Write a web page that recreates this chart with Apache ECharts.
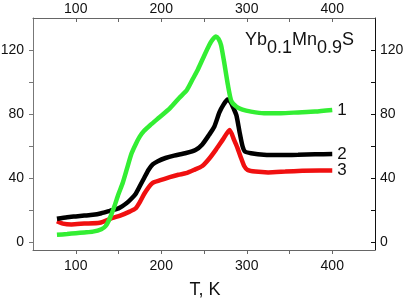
<!DOCTYPE html>
<html><head><meta charset="utf-8">
<script src="https://cdn.jsdelivr.net/npm/echarts@6/dist/echarts.min.js"></script>
<style>html,body{margin:0;padding:0;background:#fff}#c{width:405px;height:299px}</style>
</head><body><div id="c"></div>
<script>
// Curve 1 (green)
const t1 = [78,90,100,110,120,130,135,140,145,150,155,160,165,170,175,180,187,198,210,221,230,237,243,249,256,260,264,267,270,274,278,282,288,295,305,320,340,360,380,400];
const v1 = [4.5,5,5.5,6,6.5,8,10,15,22,30,37,46,55,61,66,69.5,73,78,83.5,90,95,102,108,115,123,126.5,128.5,127,123,111,98,88,84.5,82.7,81.5,80.5,80.5,81,81.5,82.5];
// Curve 2 (black)
const t2 = [78,90,100,110,120,130,140,150,160,165,170,175,180,185,190,196,205,215,229,240,248,256,262,268,273,277.5,281,285,288,291.5,295,298,305,320,340,360,380,400];
const v2 = [14.5,15.5,16,16.5,17,18,19.5,21,24.5,27,30,35,40,45,48.5,50.5,52.5,54,55.6,57.5,61,67,72,81,86,89,87.5,83,79,69,60,56.5,55.5,54.5,54.3,54.5,54.8,55];
// Curve 3 (red)
const t3 = [78,85,95,110,128,143,152,163,170,175,180,185,190,198,210,220,229,238,248,256,264,272,280,285,289,293,297,301,310,325,345,365,385,400];
const v3 = [13,11.5,11,11.5,12,15,16.5,19,21,25,30,34,37,38.5,40.5,42,43,45,47.5,52,57.7,64,70,64,59,53,47.5,45,44,43.5,44,44.5,44.7,44.7];

const seriesNames = ['1','2','3'];
const xLabelVals = [100,200,300,400];
const xTickVals = [100,150,200,250,300,350,400];
const yLabelVals = [0,40,80,120];
const yTickVals = [0,20,40,60,80,100,120];
const xName = 'T, K';

const zip = (t, v) => t.map((x, i) => [x, v[i]]);
const FONT = 'Liberation Sans, Arial, sans-serif';

function xAx(pos, inside, color) {
  return {
    type: 'value', position: pos, min: 50, max: 450,
    axisLine: { show: true, onZero: false, lineStyle: { color: color, width: 1 } },
    axisTick: { show: true, inside: inside, length: 4, customValues: xTickVals, lineStyle: { color: color } },
    axisLabel: { show: true, customValues: xLabelVals, margin: pos === 'top' ? 2 : 9, fontSize: 14, color: '#111', fontFamily: FONT },
    splitLine: { show: false }
  };
}
function yAx(pos, inside, color, margin) {
  return {
    type: 'value', position: pos, min: -5, max: 140,
    axisLine: { show: true, onZero: false, lineStyle: { color: color, width: 1 } },
    axisTick: { show: true, inside: inside, length: 4, customValues: yTickVals, lineStyle: { color: color } },
    axisLabel: { show: true, customValues: yLabelVals, margin: margin, fontSize: 14, color: '#111', fontFamily: FONT },
    splitLine: { show: false }
  };
}

function mk(name, t, v, color) {
  return {
    name: name, type: 'line', data: zip(t, v), showSymbol: false, symbol: 'none',
    smooth: 0.2,
    lineStyle: { color: color, width: 4.5 }, itemStyle: { color: color },
    animation: false,
    endLabel: { show: true, formatter: '{a}', distance: 5, fontSize: 17, color: '#111', fontFamily: FONT }
  };
}

const chart = echarts.init(document.getElementById('c'), null, { renderer: 'canvas' });
chart.setOption({
  animation: false,
  backgroundColor: '#fff',
  grid: { left: 33, right: 30, top: 18, bottom: 49, containLabel: false, outerBoundsMode: 'none' },
  title: {
    text: '{a|Yb}{b|0.1}{a|Mn}{b|0.9}{a|S}',
    left: 240, top: 26,
    textStyle: {
      fontWeight: 'normal',
      rich: {
        a: { fontSize: 18, fontWeight: 'normal', color: '#111', fontFamily: FONT, lineHeight: 20, verticalAlign: 'top' },
        b: { fontSize: 18, fontWeight: 'normal', color: '#111', fontFamily: FONT, lineHeight: 20, verticalAlign: 'top', padding: [8, 0, 0, 0] }
      }
    }
  },
  graphic: [{
    type: 'text', x: 205, y: 290,
    style: { text: xName, fontSize: 18, fontFamily: FONT, fill: '#111', align: 'center', verticalAlign: 'middle' }
  }],
  xAxis: [ xAx('bottom', false, '#666'), xAx('top', true, '#666') ],
  yAxis: [ yAx('left', false, '#777', 9), yAx('right', true, '#111', 5) ],
  series: [
    mk(seriesNames[2], t3, v3, '#f01010'),
    mk(seriesNames[1], t2, v2, '#000000'),
    mk(seriesNames[0], t1, v1, '#33ee33')
  ]
});
</script></body></html>
